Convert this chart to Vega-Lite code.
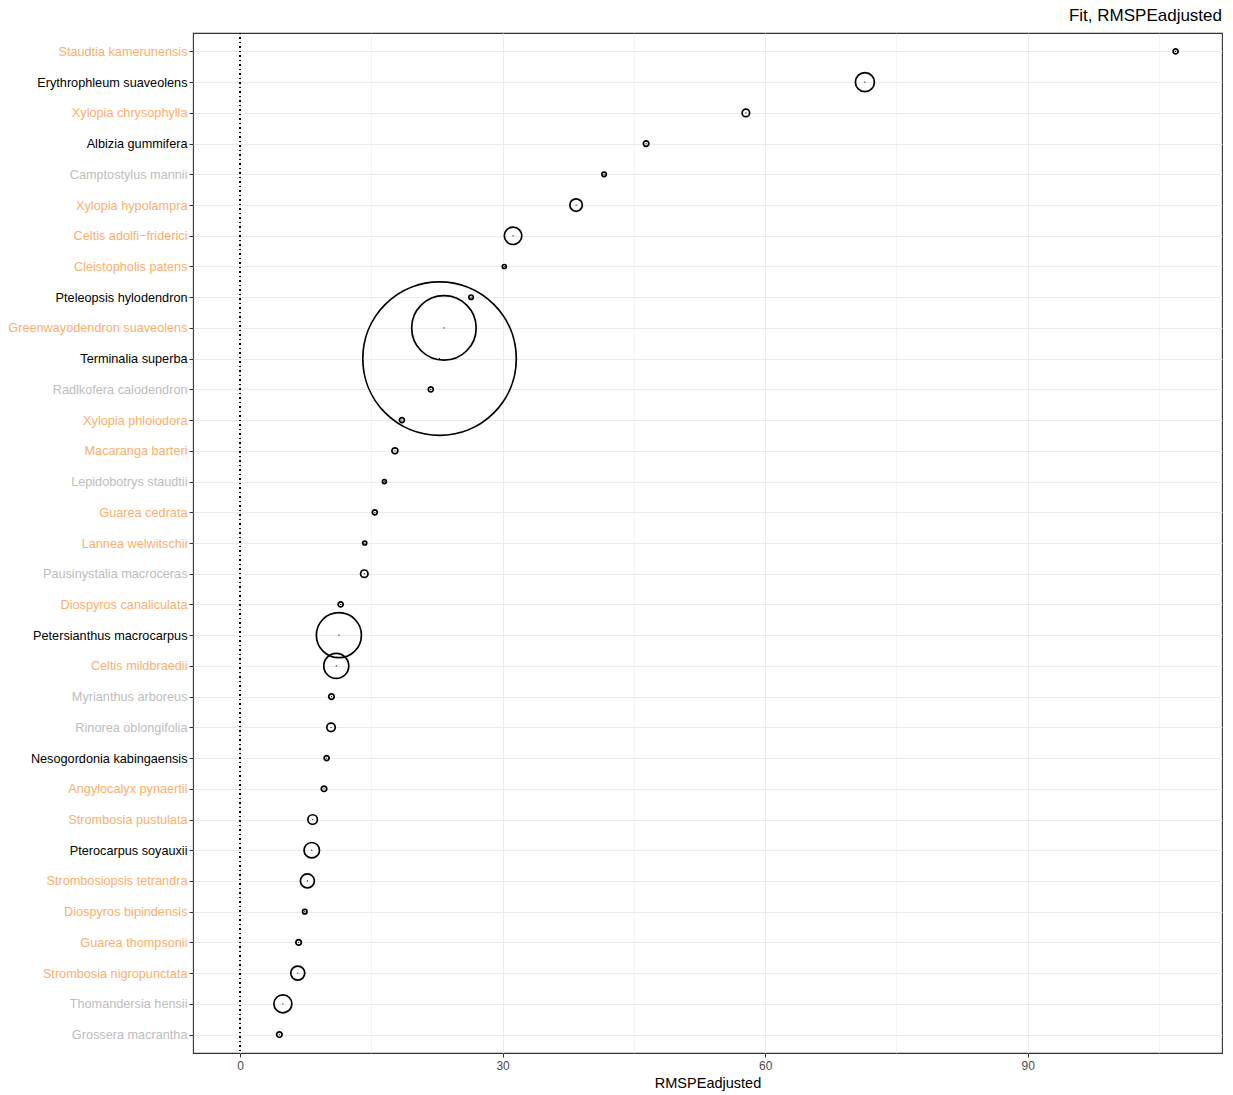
{
  "$schema": "https://vega.github.io/schema/vega-lite/v6.json",
  "width": 1029,
  "height": 1020,
  "autosize": {"type": "none"},
  "padding": {"left": 193, "top": 33, "right": 11, "bottom": 42},
  "background": "white",
  "config": {
    "font": "Liberation Sans",
    "view": {"stroke": "#333333", "strokeWidth": 1.1}
  },
  "title": {
    "text": "Fit, RMSPEadjusted",
    "anchor": "end",
    "frame": "group",
    "fontSize": 17,
    "fontWeight": "normal",
    "color": "black",
    "offset": 7
  },
  "data": {
    "values": [
      {"species": "Staudtia kamerunensis", "RMSPEadjusted": 106.9, "weight": 0.25},
      {"species": "Erythrophleum suaveolens", "RMSPEadjusted": 71.4, "weight": 3.61},
      {"species": "Xylopia chrysophylla", "RMSPEadjusted": 57.8, "weight": 0.56},
      {"species": "Albizia gummifera", "RMSPEadjusted": 46.4, "weight": 0.3},
      {"species": "Camptostylus mannii", "RMSPEadjusted": 41.6, "weight": 0.2},
      {"species": "Xylopia hypolampra", "RMSPEadjusted": 38.4, "weight": 1.56},
      {"species": "Celtis adolfi−friderici", "RMSPEadjusted": 31.2, "weight": 3.06},
      {"species": "Cleistopholis patens", "RMSPEadjusted": 30.2, "weight": 0.16},
      {"species": "Pteleopsis hylodendron", "RMSPEadjusted": 26.4, "weight": 0.2},
      {"species": "Greenwayodendron suaveolens", "RMSPEadjusted": 23.3, "weight": 41.6},
      {"species": "Terminalia superba", "RMSPEadjusted": 22.8, "weight": 235.6},
      {"species": "Radlkofera calodendron", "RMSPEadjusted": 21.8, "weight": 0.25},
      {"species": "Xylopia phloiodora", "RMSPEadjusted": 18.5, "weight": 0.25},
      {"species": "Macaranga barteri", "RMSPEadjusted": 17.7, "weight": 0.36},
      {"species": "Lepidobotrys staudtii", "RMSPEadjusted": 16.5, "weight": 0.16},
      {"species": "Guarea cedrata", "RMSPEadjusted": 15.4, "weight": 0.25},
      {"species": "Lannea welwitschii", "RMSPEadjusted": 14.25, "weight": 0.16},
      {"species": "Pausinystalia macroceras", "RMSPEadjusted": 14.2, "weight": 0.56},
      {"species": "Diospyros canaliculata", "RMSPEadjusted": 11.5, "weight": 0.25},
      {"species": "Petersianthus macrocarpus", "RMSPEadjusted": 11.3, "weight": 20.25},
      {"species": "Celtis mildbraedii", "RMSPEadjusted": 11.0, "weight": 6.25},
      {"species": "Myrianthus arboreus", "RMSPEadjusted": 10.45, "weight": 0.3},
      {"species": "Rinorea oblongifolia", "RMSPEadjusted": 10.4, "weight": 0.72},
      {"species": "Nesogordonia kabingaensis", "RMSPEadjusted": 9.9, "weight": 0.25},
      {"species": "Angylocalyx pynaertii", "RMSPEadjusted": 9.6, "weight": 0.3},
      {"species": "Strombosia pustulata", "RMSPEadjusted": 8.3, "weight": 0.9},
      {"species": "Pterocarpus soyauxii", "RMSPEadjusted": 8.2, "weight": 2.4},
      {"species": "Strombosiopsis tetrandra", "RMSPEadjusted": 7.7, "weight": 1.96},
      {"species": "Diospyros bipindensis", "RMSPEadjusted": 7.4, "weight": 0.2},
      {"species": "Guarea thompsonii", "RMSPEadjusted": 6.7, "weight": 0.3},
      {"species": "Strombosia nigropunctata", "RMSPEadjusted": 6.6, "weight": 1.96},
      {"species": "Thomandersia hensii", "RMSPEadjusted": 4.9, "weight": 3.24},
      {"species": "Grossera macrantha", "RMSPEadjusted": 4.5, "weight": 0.3}
    ]
  },
  "layer": [
    {
      "mark": {"type": "point", "shape": "circle", "filled": false, "stroke": "black", "strokeWidth": 1.7, "opacity": 1},
      "encoding": {
        "x": {
          "field": "RMSPEadjusted",
          "type": "quantitative",
          "scale": {"domain": [-5.37, 112.2], "nice": false, "zero": false},
          "axis": {
            "values": [0, 15, 30, 45, 60, 75, 90, 105],
            "labelExpr": "datum.value % 30 === 0 ? datum.label : ''",
            "tickOpacity": {"condition": {"test": "datum.value % 30 === 0", "value": 1}, "value": 0},
            "gridWidth": {"condition": {"test": "datum.value % 30 === 0", "value": 1}, "value": 0.6},
            "grid": true,
            "gridColor": "#EBEBEB",
            "domain": false,
            "tickColor": "#333333",
            "tickSize": 4,
            "labelColor": "#4D4D4D",
            "labelFontSize": 12,
            "labelPadding": 3,
            "title": "RMSPEadjusted",
            "titleFontSize": 14.5,
            "titleFontWeight": "normal",
            "titleColor": "black",
            "titlePadding": 5
          }
        },
        "y": {
          "field": "species",
          "type": "nominal",
          "sort": {"field": "RMSPEadjusted", "order": "descending"},
          "scale": {"type": "point", "padding": 0.6},
          "axis": {
            "title": null,
            "grid": true,
            "gridColor": "#EBEBEB",
            "gridWidth": 1,
            "domain": false,
            "tickColor": "#333333",
            "tickSize": 4,
            "labelFontSize": 12.7,
            "labelPadding": 2,
            "labelColor": {
              "condition": [
                {"test": "indexof(['Staudtia kamerunensis','Xylopia chrysophylla','Xylopia hypolampra','Celtis adolfi−friderici','Cleistopholis patens','Greenwayodendron suaveolens','Xylopia phloiodora','Macaranga barteri','Guarea cedrata','Lannea welwitschii','Diospyros canaliculata','Celtis mildbraedii','Angylocalyx pynaertii','Strombosia pustulata','Strombosiopsis tetrandra','Diospyros bipindensis','Guarea thompsonii','Strombosia nigropunctata'], datum.value) >= 0", "value": "#FDAE6B"},
                {"test": "indexof(['Camptostylus mannii','Radlkofera calodendron','Lepidobotrys staudtii','Pausinystalia macroceras','Myrianthus arboreus','Rinorea oblongifolia','Thomandersia hensii','Grossera macrantha'], datum.value) >= 0", "value": "#BDBDBD"}
              ],
              "value": "black"
            }
          }
        },
        "size": {
          "field": "weight",
          "type": "quantitative",
          "scale": {"type": "linear", "domain": [0, 100], "range": [0, 10000], "zero": true},
          "legend": null
        }
      }
    },
    {
      "mark": {"type": "point", "shape": "circle", "filled": true, "color": "black", "size": 1.5, "opacity": 1},
      "encoding": {
        "x": {"field": "RMSPEadjusted", "type": "quantitative"},
        "y": {"field": "species", "type": "nominal", "sort": {"field": "RMSPEadjusted", "order": "descending"}}
      }
    },
    {
      "mark": {"type": "rule", "strokeDash": [1, 3.5], "color": "black", "strokeWidth": 1.1},
      "encoding": {"x": {"datum": 0}}
    }
  ]
}
